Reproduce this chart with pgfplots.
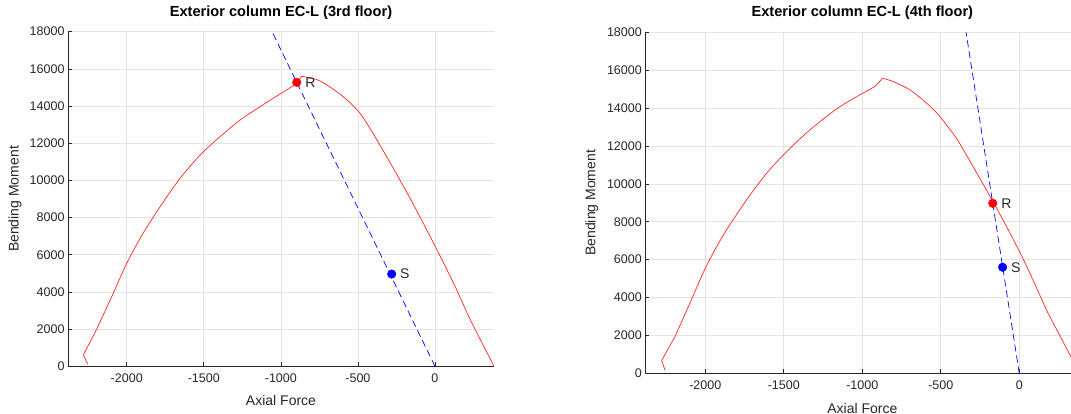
\documentclass[border=0pt]{standalone}
\usepackage{fontspec}
\setmainfont{Liberation Sans}
\usepackage{pgfplots}
\pgfplotsset{compat=1.18}
\definecolor{tx}{HTML}{262626}
\definecolor{gr}{HTML}{E3E3E3}
\pgfplotsset{mystyle/.style={
  scale only axis,
  axis x line*=bottom, axis y line*=left,
  axis line style={tx, line width=0.7pt, -},
  tick align=inside, major tick length=4pt, tick style={tx, line width=0.6pt},
  grid=major, major grid style={gr, line width=0.6pt},
  xtick={-2000,-1500,-1000,-500,0},
  ytick={0,2000,4000,6000,8000,10000,12000,14000,16000,18000},
  ymin=0, ymax=18000,
  scaled ticks=false,
  /pgf/number format/assume math mode=true,
  /pgf/number format/1000 sep={},
  tick label style={font=\fontsize{12.5}{14}\selectfont, text=tx},
  xticklabel style={yshift=-4pt},
  label style={font=\fontsize{14}{16}\selectfont, text=tx},
  title style={font=\fontsize{14.6}{16}\selectfont\bfseries, text=black, at={(axis description cs:0.5,1)}, anchor=center},
  xlabel={Axial Force}, ylabel={Bending Moment},
  curve/.style={red!85!white, line width=0.7pt},
  scurve/.style={red!85!white, line width=0.7pt, smooth, tension=0.5},
}}
\begin{document}
\begin{tikzpicture}
\useasboundingbox (0pt,0pt) rectangle (1071pt,414pt);
% ---------- left plot ----------
\begin{axis}[mystyle,
  at={(68pt,47.7pt)}, anchor=south west,
  width=426pt, height=334.6pt,
  xmin=-2381, xmax=383,
  title={Exterior column EC-L (3rd floor)},
  title style={yshift=13.4pt},
  xlabel style={at={(axis description cs:0.5,-0.1016)}, anchor=center},
  ylabel style={at={(axis description cs:-0.1244,0.5)}, anchor=center},
]
\addplot[curve] coordinates {(-2253,100) (-2281,620) (-2197,1960)};
\addplot[scurve] coordinates {
(-2197,1960) (-2097,3750) (-2000,5540) (-1892,7180) (-1762,8850) (-1654,10110)
(-1524,11364) (-1395,12348) (-1265,13246) (-1135,13962) (-1005,14650) (-897,15200)};
\addplot[curve] coordinates {(-897,15200) (-890,15290) (-865,15600)};
\addplot[scurve] coordinates {
(-865,15600) (-746,15350) (-595,14503) (-486,13607) (-389,12350)};
\addplot[scurve] coordinates {
(-389,12350) (-313,11273) (-227,10019) (-141,8720) (0,6480) (120,4480) (232,2460) (383,0)};
\addplot[blue, line width=0.7pt, dash pattern=on 7pt off 4pt] coordinates {(0,0) (-1057,18000)};
\addplot[only marks, mark=*, mark size=4.3pt, red] coordinates {(-897,15274)};
\addplot[only marks, mark=*, mark size=4.3pt, blue] coordinates {(-281,4964)};
\node[anchor=west, xshift=5pt, text=tx, font=\fontsize{14}{16}\selectfont] at (axis cs:-897,15274) {R};
\node[anchor=west, xshift=5pt, text=tx, font=\fontsize{14}{16}\selectfont] at (axis cs:-281,4964) {S};
\end{axis}
% ---------- right plot ----------
\begin{axis}[mystyle,
  at={(645.3pt,40.7pt)}, anchor=south west,
  width=434.1pt, height=341pt,
  xmin=-2382, xmax=383,
  title={Exterior column EC-L (4th floor)},
  title style={yshift=13.3pt},
  xlabel style={at={(axis description cs:0.5,-0.1018)}, anchor=center},
  ylabel style={at={(axis description cs:-0.1235,0.5)}, anchor=center},
]
\addplot[curve] coordinates {(-2255,140) (-2278,670) (-2193,1940)};
\addplot[scurve] coordinates {
(-2193,1940) (-2098,3700) (-2000,5540) (-1885,7300) (-1737,9150) (-1609,10560)
(-1482,11700) (-1333,12850) (-1142,14076) (-920,15132)};
\addplot[curve] coordinates {(-920,15132) (-870,15575)};
\addplot[scurve] coordinates {
(-870,15575) (-803,15396) (-696,14958) (-590,14256) (-505,13548) (-395,12350)};
\addplot[scurve] coordinates {
(-395,12350) (-335,11500) (-250,10270) (-166,9040) (-59,7400) (47,5650) (174,3340) (206,2814) (329,877) (383,30)};
\addplot[blue, line width=0.7pt, dash pattern=on 7pt off 4pt] coordinates {(0,0) (-339,18000)};
\addplot[only marks, mark=*, mark size=4.3pt, red] coordinates {(-169,8975)};
\addplot[only marks, mark=*, mark size=4.3pt, blue] coordinates {(-106,5597)};
\node[anchor=west, xshift=5pt, text=tx, font=\fontsize{14}{16}\selectfont] at (axis cs:-169,8975) {R};
\node[anchor=west, xshift=5pt, text=tx, font=\fontsize{14}{16}\selectfont] at (axis cs:-106,5597) {S};
\end{axis}
\end{tikzpicture}
\end{document}
